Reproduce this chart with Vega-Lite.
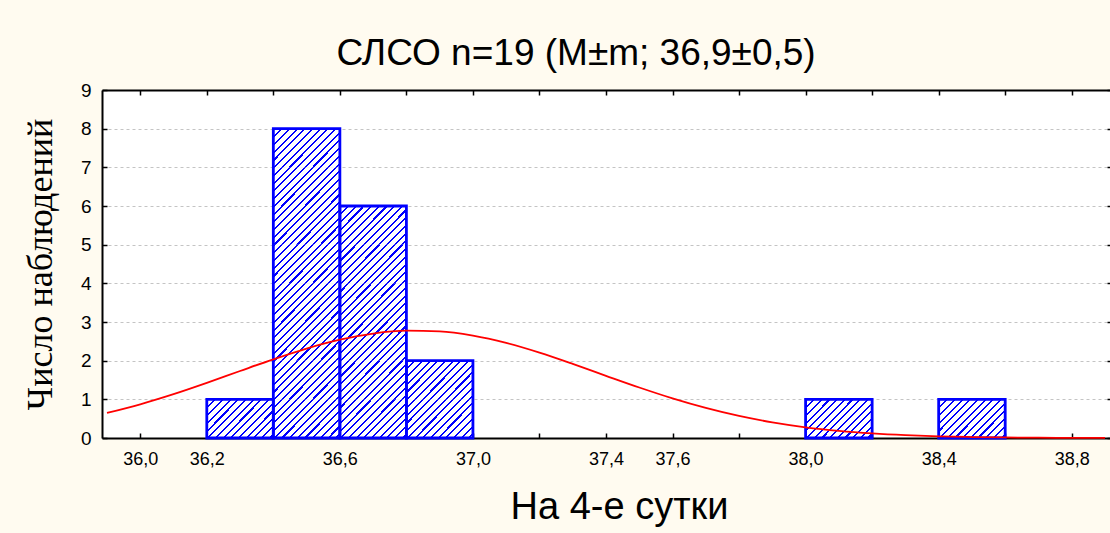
{
  "$schema": "https://vega.github.io/schema/vega-lite/v6.json",
  "width": 1008,
  "height": 348,
  "autosize": "none",
  "padding": {"left": 102, "top": 90, "right": 0, "bottom": 95},
  "background": "#fffbf0",
  "config": {"view": {"stroke": null, "fill": "white"}},
  "title": {"text": "СЛСО n=19 (M±m; 36,9±0,5)", "font": "Liberation Sans", "fontSize": 37, "fontWeight": "normal", "color": "black", "offset": 8, "dx": -30, "anchor": "middle"},
  "datasets": {
    "obs": [
      {"id": 1, "lo": 36.2, "hi": 36.4},
      {"id": 2, "lo": 36.4, "hi": 36.6},
      {"id": 3, "lo": 36.4, "hi": 36.6},
      {"id": 4, "lo": 36.4, "hi": 36.6},
      {"id": 5, "lo": 36.4, "hi": 36.6},
      {"id": 6, "lo": 36.4, "hi": 36.6},
      {"id": 7, "lo": 36.4, "hi": 36.6},
      {"id": 8, "lo": 36.4, "hi": 36.6},
      {"id": 9, "lo": 36.4, "hi": 36.6},
      {"id": 10, "lo": 36.6, "hi": 36.8},
      {"id": 11, "lo": 36.6, "hi": 36.8},
      {"id": 12, "lo": 36.6, "hi": 36.8},
      {"id": 13, "lo": 36.6, "hi": 36.8},
      {"id": 14, "lo": 36.6, "hi": 36.8},
      {"id": 15, "lo": 36.6, "hi": 36.8},
      {"id": 16, "lo": 36.8, "hi": 37.0},
      {"id": 17, "lo": 36.8, "hi": 37.0},
      {"id": 18, "lo": 38.0, "hi": 38.2},
      {"id": 19, "lo": 38.4, "hi": 38.6}
    ],
    "curve": [
      {"x": 35.9, "y": 0.648},
      {"x": 36.0, "y": 0.872},
      {"x": 36.1, "y": 1.133},
      {"x": 36.2, "y": 1.425},
      {"x": 36.3, "y": 1.733},
      {"x": 36.4, "y": 2.036},
      {"x": 36.5, "y": 2.314},
      {"x": 36.6, "y": 2.543},
      {"x": 36.7, "y": 2.702},
      {"x": 36.8, "y": 2.776},
      {"x": 36.9, "y": 2.757},
      {"x": 37.0, "y": 2.648},
      {"x": 37.1, "y": 2.459},
      {"x": 37.2, "y": 2.208},
      {"x": 37.3, "y": 1.917},
      {"x": 37.4, "y": 1.609},
      {"x": 37.5, "y": 1.306},
      {"x": 37.6, "y": 1.025},
      {"x": 37.7, "y": 0.778},
      {"x": 37.8, "y": 0.570},
      {"x": 37.9, "y": 0.405},
      {"x": 38.0, "y": 0.277},
      {"x": 38.1, "y": 0.184},
      {"x": 38.2, "y": 0.118},
      {"x": 38.3, "y": 0.073},
      {"x": 38.4, "y": 0.044},
      {"x": 38.5, "y": 0.025},
      {"x": 38.6, "y": 0.014},
      {"x": 38.7, "y": 0.008},
      {"x": 38.8, "y": 0.004},
      {"x": 38.9, "y": 0.002}
    ]
  },
  "layer": [
    {
      "data": {"name": "obs"},
      "mark": {
        "type": "bar",
        "strokeWidth": 0,
        "fill": {
          "gradient": "linear",
          "x1": 0, "y1": 0, "x2": 1.1832, "y2": 0.6824,
          "stops": [
            {"offset": 0, "color": "#0000ff"},
            {"offset": 0.02, "color": "#0000ff"},
            {"offset": 0.02, "color": "#ffffff"},
            {"offset": 0.0731, "color": "#ffffff"},
            {"offset": 0.0731, "color": "#0000ff"},
            {"offset": 0.0931, "color": "#0000ff"},
            {"offset": 0.0931, "color": "#ffffff"},
            {"offset": 0.1463, "color": "#ffffff"},
            {"offset": 0.1463, "color": "#0000ff"},
            {"offset": 0.1663, "color": "#0000ff"},
            {"offset": 0.1663, "color": "#ffffff"},
            {"offset": 0.2194, "color": "#ffffff"},
            {"offset": 0.2194, "color": "#0000ff"},
            {"offset": 0.2394, "color": "#0000ff"},
            {"offset": 0.2394, "color": "#ffffff"},
            {"offset": 0.2925, "color": "#ffffff"},
            {"offset": 0.2925, "color": "#0000ff"},
            {"offset": 0.3125, "color": "#0000ff"},
            {"offset": 0.3125, "color": "#ffffff"},
            {"offset": 0.3657, "color": "#ffffff"},
            {"offset": 0.3657, "color": "#0000ff"},
            {"offset": 0.3857, "color": "#0000ff"},
            {"offset": 0.3857, "color": "#ffffff"},
            {"offset": 0.4388, "color": "#ffffff"},
            {"offset": 0.4388, "color": "#0000ff"},
            {"offset": 0.4588, "color": "#0000ff"},
            {"offset": 0.4588, "color": "#ffffff"},
            {"offset": 0.5119, "color": "#ffffff"},
            {"offset": 0.5119, "color": "#0000ff"},
            {"offset": 0.5319, "color": "#0000ff"},
            {"offset": 0.5319, "color": "#ffffff"},
            {"offset": 0.585, "color": "#ffffff"},
            {"offset": 0.585, "color": "#0000ff"},
            {"offset": 0.605, "color": "#0000ff"},
            {"offset": 0.605, "color": "#ffffff"},
            {"offset": 0.6582, "color": "#ffffff"},
            {"offset": 0.6582, "color": "#0000ff"},
            {"offset": 0.6782, "color": "#0000ff"},
            {"offset": 0.6782, "color": "#ffffff"},
            {"offset": 0.7313, "color": "#ffffff"},
            {"offset": 0.7313, "color": "#0000ff"},
            {"offset": 0.7513, "color": "#0000ff"},
            {"offset": 0.7513, "color": "#ffffff"},
            {"offset": 0.8044, "color": "#ffffff"},
            {"offset": 0.8044, "color": "#0000ff"},
            {"offset": 0.8244, "color": "#0000ff"},
            {"offset": 0.8244, "color": "#ffffff"},
            {"offset": 0.8776, "color": "#ffffff"},
            {"offset": 0.8776, "color": "#0000ff"},
            {"offset": 0.8976, "color": "#0000ff"},
            {"offset": 0.8976, "color": "#ffffff"},
            {"offset": 0.9507, "color": "#ffffff"},
            {"offset": 0.9507, "color": "#0000ff"},
            {"offset": 0.9707, "color": "#0000ff"},
            {"offset": 0.9707, "color": "#ffffff"},
            {"offset": 1, "color": "#ffffff"}
          ]
        }
      },
      "encoding": {
        "x": {
          "field": "lo", "type": "quantitative",
          "scale": {"domain": [35.9, 38.9], "nice": false, "zero": false},
          "axis": {
            "orient": "bottom",
            "values": [36.0, 36.2, 36.4, 36.6, 36.8, 37.0, 37.2, 37.4, 37.6, 37.8, 38.0, 38.2, 38.4, 38.6, 38.8],
            "labelExpr": "indexof(['36.0','36.2','36.6','37.0','37.4','37.6','38.0','38.4','38.8'], format(datum.value, '.1f')) >= 0 ? replace(format(datum.value, '.1f'), '.', ',') : ''",
            "labelOverlap": false,
            "labelFlush": false,
            "labelFont": "Liberation Sans",
            "labelFontSize": 18,
            "labelColor": "black",
            "labelPadding": 17,
            "ticks": true,
            "tickSize": -5,
            "tickColor": "black",
            "tickWidth": 1.5,
            "domain": true,
            "domainColor": "black",
            "domainWidth": 2,
            "grid": false,
            "title": "На 4-е сутки",
            "titleFont": "Liberation Sans",
            "titleFontSize": 38,
            "titleFontWeight": "normal",
            "titleColor": "black",
            "titlePadding": 20,
            "titleX": 517
          }
        },
        "x2": {"field": "hi"},
        "y": {
          "aggregate": "count", "type": "quantitative", "stack": "zero",
          "scale": {"domain": [0, 9], "nice": false},
          "axis": {
            "orient": "left",
            "values": [0, 1, 2, 3, 4, 5, 6, 7, 8, 9],
            "format": "d",
            "labelFont": "Liberation Sans",
            "labelFontSize": 19,
            "labelColor": "black",
            "labelPadding": 16,
            "ticks": true,
            "tickSize": -5,
            "tickColor": "black",
            "tickWidth": 1.5,
            "domain": true,
            "domainColor": "black",
            "domainWidth": 2,
            "grid": true,
            "gridColor": "#c4c4c4",
            "gridDash": [3, 3],
            "gridWidth": 1,
            "title": "Число наблюдений",
            "titleFont": "Liberation Serif",
            "titleFontSize": 36,
            "titleFontWeight": "normal",
            "titleColor": "black",
            "titlePadding": 21
          }
        },
        "detail": {"field": "id", "type": "nominal"}
      }
    },
    {
      "data": {"name": "obs"},
      "mark": {"type": "bar", "fillOpacity": 0, "stroke": "#0000ff", "strokeWidth": 2.8},
      "encoding": {
        "x": {"field": "lo", "type": "quantitative", "scale": {"domain": [35.9, 38.9], "nice": false, "zero": false}, "axis": null},
        "x2": {"field": "hi"},
        "y": {"aggregate": "count", "type": "quantitative", "stack": null, "scale": {"domain": [0, 9], "nice": false}, "axis": null}
      }
    },
    {
      "data": {"name": "curve"},
      "mark": {"type": "line", "color": "#ff0000", "strokeWidth": 1.8, "interpolate": "monotone"},
      "encoding": {
        "x": {
          "field": "x", "type": "quantitative",
          "scale": {"domain": [35.9, 38.9], "nice": false, "zero": false},
          "axis": {
            "orient": "top",
            "values": [36.0, 36.2, 36.4, 36.6, 36.8, 37.0, 37.2, 37.4, 37.6, 37.8, 38.0, 38.2, 38.4, 38.6, 38.8],
            "labels": false,
            "ticks": true,
            "tickSize": -5,
            "tickColor": "black",
            "tickWidth": 1.5,
            "domain": true,
            "domainColor": "black",
            "domainWidth": 2,
            "grid": false,
            "title": null
          }
        },
        "y": {
          "field": "y", "type": "quantitative",
          "scale": {"domain": [0, 9], "nice": false},
          "axis": {
            "orient": "right",
            "values": [0, 1, 2, 3, 4, 5, 6, 7, 8, 9],
            "labels": false,
            "ticks": true,
            "tickSize": -3,
            "tickColor": "black",
            "tickWidth": 1.5,
            "domain": false,
            "grid": false,
            "title": null
          }
        }
      }
    }
  ],
  "resolve": {"axis": {"x": "independent", "y": "independent"}}
}
